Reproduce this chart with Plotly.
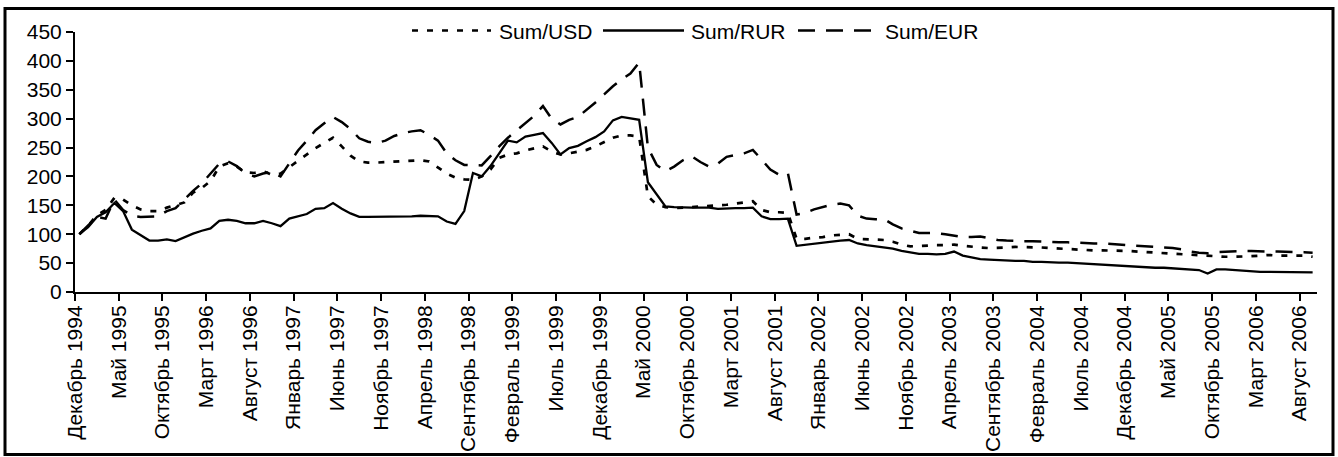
import plotly.graph_objects as go

# ---- data, monthly from Dec 1994 to Sep 2006 ----
usd = [100, 115, 133, 142, 163, 160, 150, 143, 140, 140,
       146, 150, 155, 172, 180, 192, 217, 223, 217, 207,
       206, 209, 203, 205, 216, 228, 238, 249, 258, 267,
       252, 236, 226, 224, 224, 225, 226, 227, 228, 228,
       226, 216, 205, 198, 195, 194, 200, 212, 232, 238,
       240, 245, 249, 252, 243, 238, 240, 243, 246, 252,
       260, 267, 271, 271, 269, 166, 151, 147, 145, 146,
       146, 148, 149, 150, 151, 153, 155, 157, 142, 138,
       138, 137, 92, 92, 94, 95, 98, 99, 100, 92,
       91, 91, 90, 87, 82, 79, 80, 81, 81, 81,
       82, 80, 78, 77, 76, 76, 77, 78, 78, 78,
       77, 76, 75, 74, 73, 73, 72, 72, 72, 71,
       71, 70, 69, 69, 68, 67, 66, 65, 64, 62,
       61, 61, 61, 61, 62, 63, 64, 63, 63, 64,
       63, 61]

rur = [100, 112, 130, 138, 154, 140, 108, 99, 89, 89,
       91, 88, 95, 101, 106, 110, 123, 125, 123, 119,
       119, 123, 119, 114, 127, 131, 135, 144, 145, 154,
       144, 136, 130, 130, 130, 130, 130, 131, 131, 132,
       132, 131, 122, 118, 140, 206, 200, 218, 240, 262,
       259, 269, 272, 275, 258, 238, 249, 253, 261, 268,
       278, 297, 303, 301, 298, 190, 168, 148, 147, 146,
       146, 146, 146, 144, 145, 145, 145, 146, 131, 126,
       126, 127, 80, 82, 84, 86, 87, 89, 90, 84,
       81, 79, 78, 75, 71, 68, 66, 66, 65, 66,
       70, 63, 60, 57, 56, 55, 55, 54, 54, 52,
       52, 51, 51, 51, 50, 50, 49, 48, 47, 46,
       45, 44, 43, 42, 42, 41, 41, 40, 38, 32,
       39, 39, 38, 36, 35, 35, 35, 35, 35, 34,
       34, 34]

eur = [100, 115, 130, 127, 160, 142, 132, 130, 130, 131,
       140, 145, 160, 175, 188, 205, 222, 226, 218, 205,
       200, 205, 208, 200, 222, 245, 262, 280, 292, 303,
       294, 282, 266, 260, 258, 262, 270, 275, 278, 280,
       272, 262, 240, 228, 220, 219, 219, 235, 252, 267,
       280, 292, 305, 322, 300, 290, 298, 303, 315, 328,
       342, 356, 368, 378, 397, 250, 220, 209, 217, 228,
       235, 225, 217, 222, 234, 237, 240, 246, 228, 212,
       203, 206, 134, 137, 143, 147, 151, 153, 150, 132,
       127, 126, 126, 117, 110, 106, 102, 102, 102, 100,
       97, 95, 95, 96, 93, 90, 89, 88, 88, 88,
       87, 87, 86, 86, 85, 85, 84, 84, 83, 82,
       82, 81, 80, 79, 78, 76, 74, 70, 68, 67,
       69, 70, 71, 71, 71, 70, 70, 70, 70, 69,
       69, 68]

tick_labels = ["Декабрь 1994", "Май 1995", "Октябрь 1995", "Март 1996", "Август 1996",
               "Январь 1997", "Июнь 1997", "Ноябрь 1997", "Апрель 1998", "Сентябрь 1998",
               "Февраль 1999", "Июль 1999", "Декабрь 1999", "Май 2000", "Октябрь 2000",
               "Март 2001", "Август 2001", "Январь 2002", "Июнь 2002", "Ноябрь 2002",
               "Апрель 2003", "Сентябрь 2003", "Февраль 2004", "Июль 2004", "Декабрь 2004",
               "Май 2005", "Октябрь 2005", "Март 2006", "Август 2006"]

series_names = ["Sum/USD", "Sum/RUR", "Sum/EUR"]

# ---- figure ----
W, H = 1338, 457
ML, MR, MT, MB = 75, 21, 32, 165
PW, PH = W - ML - MR, H - MT - MB
FONT = "Liberation Sans, Arial, sans-serif"
FS = 21
FSX = 21

n = len(rur)
x = list(range(n))

styles = [dict(dash="6px,9px", width=2.7),
          dict(dash="solid", width=2.3),
          dict(dash="17px,11px", width=2.5)]

fig = go.Figure()
for name, vals, st in zip(series_names, [usd, rur, eur], styles):
    fig.add_trace(go.Scatter(x=x, y=vals, mode="lines", name=name,
                             line=dict(color="black", width=st["width"], dash=st["dash"]),
                             showlegend=False))

def px_x(p):
    return (p - ML) / PW

def px_y(p):
    return (MT + PH - p) / PH

shapes = []
annotations = []
# custom legend (long line samples as in the reference)
leg_y = 30.5
legend_items = [(412, 491, 497), (603, 684, 689), (798, 873, 883)]
for (x0, x1, tx), name, st in zip(legend_items, series_names, styles):
    shapes.append(dict(type="line", xref="paper", yref="paper",
                       x0=px_x(x0), x1=px_x(x1), y0=px_y(leg_y), y1=px_y(leg_y),
                       line=dict(color="black", width=st["width"], dash=st["dash"])))
    annotations.append(dict(xref="paper", yref="paper", x=px_x(tx), y=px_y(leg_y + 1),
                            text=name, showarrow=False, xanchor="left", yanchor="middle",
                            font=dict(family=FONT, size=FS, color="black")))

# outer chart border
shapes.append(dict(type="rect", xref="paper", yref="paper",
                   x0=px_x(5), x1=px_x(1333), y0=px_y(454.5), y1=px_y(8.5),
                   line=dict(color="black", width=3), layer="above"))

fig.update_layout(
    width=W, height=H,
    margin=dict(l=ML, r=MR, t=MT, b=MB, autoexpand=False),
    paper_bgcolor="white", plot_bgcolor="white",
    font=dict(family=FONT, size=FS, color="black"),
    shapes=shapes, annotations=annotations,
    showlegend=False,
)
fig.update_xaxes(range=[-0.5, n - 0.5],
                 tickmode="array",
                 tickvals=[i - 0.5 for i in range(0, n, 5)][:len(tick_labels)],
                 ticktext=tick_labels,
                 tickangle=-90, ticks="outside", ticklen=7, tickwidth=2, tickcolor="black",
                 ticklabelstandoff=-4,
                 showline=True, linecolor="black", linewidth=2,
                 showgrid=False, zeroline=False, automargin=False,
                 tickfont=dict(family=FONT, size=FSX, color="black"))
fig.update_yaxes(range=[0, 450], dtick=50, tick0=0,
                 ticks="outside", ticklen=7, tickwidth=2, tickcolor="black",
                 showline=True, linecolor="black", linewidth=2,
                 showgrid=False, zeroline=False, automargin=False,
                 tickfont=dict(family=FONT, size=FS, color="black"))

fig.write_html("out.html",
               config={"displayModeBar": False},
               post_script="document.body.style.margin='0';document.body.style.overflow='hidden';")
